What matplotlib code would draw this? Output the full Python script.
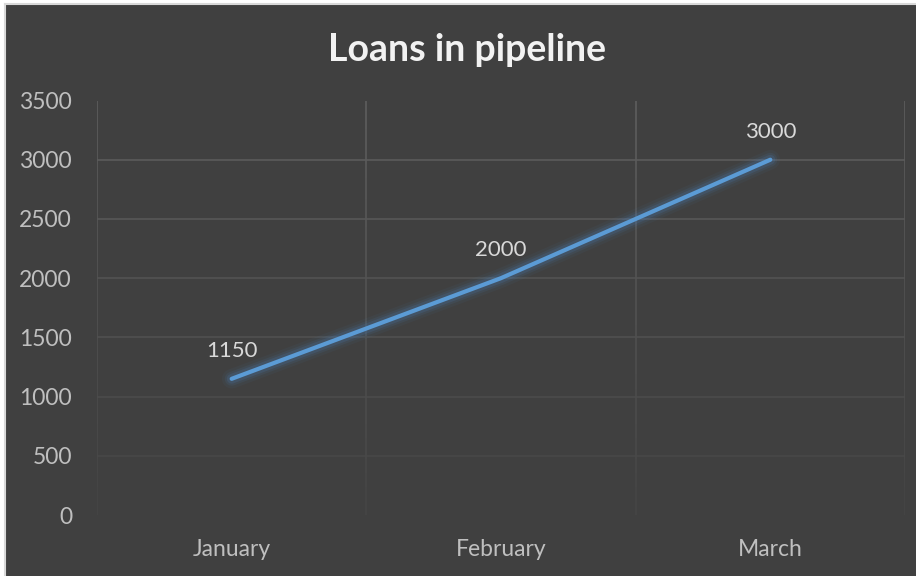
import matplotlib.pyplot as plt
import numpy as np
from matplotlib.collections import LineCollection

months = ['January', 'February', 'March']
loans = [1150, 2000, 3000]
y_ticks = [0, 500, 1000, 1500, 2000, 2500, 3000, 3500]

bg = '#404040'
plt.rcParams['font.family'] = ['Lato', 'DejaVu Sans']

fig = plt.figure(figsize=(9.16, 5.76), dpi=100, facecolor='white')
# dark chart area with a thin light frame on the left and top
frame = fig.add_axes([5 / 916, -0.01, 1, 572 / 576 + 0.01])
frame.set_facecolor(bg)
frame.set_xticks([])
frame.set_yticks([])
for s in frame.spines.values():
    s.set_color('#d9d9d9')
    s.set_linewidth(1.5)

ax = fig.add_axes([97 / 916, 61 / 576, 808 / 916, 414.5 / 576])
ax.set_facecolor('none')
ax.set_xlim(-0.5, 2.5)
ax.set_ylim(0, 3500)
for s in ax.spines.values():
    s.set_visible(False)

# gridlines fading toward the bottom, like the source chart
def grid_color(v):
    t = v / 3500
    c = 0.27 + 0.10 * t
    return (c, c, c)

for v in y_ticks[1:]:
    ax.axhline(v, color=grid_color(v), lw=1.2, zorder=1)

yy = np.linspace(0, 3500, 60)
for xb in [-0.5, 0.5, 1.5, 2.5]:
    segs = [[(xb, yy[i]), (xb, yy[i + 1])] for i in range(len(yy) - 1)]
    cols = [grid_color((yy[i] + yy[i + 1]) / 2) for i in range(len(yy) - 1)]
    ax.add_collection(LineCollection(segs, colors=cols, lw=1.2, zorder=1))

x = np.arange(len(months))
# soft glow under the line
for w, a in [(14, 0.06), (10, 0.10), (7, 0.16)]:
    ax.plot(x, loans, color='#4a86c5', lw=w, alpha=a, solid_capstyle='round', zorder=2)
ax.plot(x, loans, color='#5b9bd5', lw=3, solid_capstyle='round', zorder=3)

for xi, v in zip(x, loans):
    ax.annotate(str(v), (xi, v), xytext=(0, 13), textcoords='offset points',
                ha='center', va='bottom', color='#d9d9d9', fontsize=16)

ax.set_xticks(x)
ax.set_xticklabels(months)
ax.set_yticks(y_ticks)
ax.tick_params(length=0, colors='#bfbfbf', labelsize=16.5)
ax.tick_params(axis='x', pad=17)
ax.tick_params(axis='y', pad=18)

fig.text(467 / 916, 1 - 50 / 576, 'Loans in pipeline', ha='center', va='center',
         color='#f2f2f2', fontsize=27, fontweight='bold')

fig.savefig('out.png', dpi=100, facecolor='white')
